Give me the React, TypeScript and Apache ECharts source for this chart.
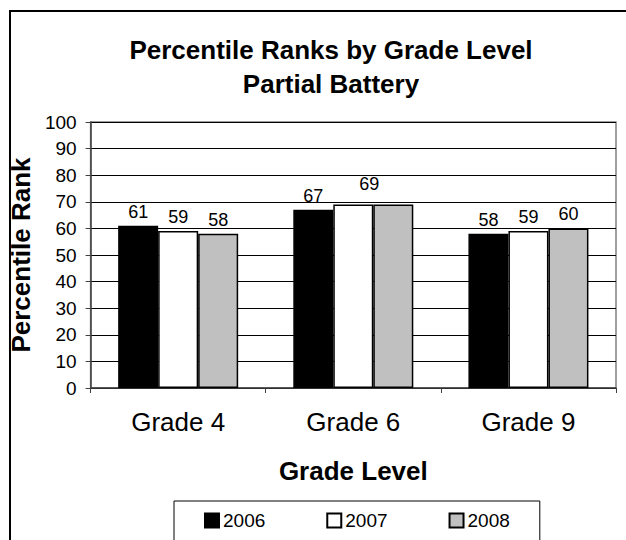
import React, { useEffect, useRef } from "react";
import * as echarts from "echarts";

const categories = ["Grade 4", "Grade 6", "Grade 9"];
const years = ["2006", "2007", "2008"];
const values2006 = [61, 67, 58];
const values2007 = [59, 69, 59];
const values2008 = [58, 69, 60];
const yTicks = { min: 0, max: 100, interval: 10 };

const FONT = "'Liberation Sans', Arial, sans-serif";

export default function App() {
  const ref = useRef<HTMLDivElement>(null);
  useEffect(() => {
    if (!ref.current) return;
    const chart = echarts.init(ref.current, undefined, { renderer: "svg" });
    const labelBase = {
      show: true,
      position: "top" as const,
      distance: 5,
      color: "#000",
      fontSize: 18,
      fontFamily: FONT,
    };
    const colors = ["#000000", "#ffffff", "#c0c0c0"];
    const seriesData = [values2006, values2007, values2008];
    const series = years.map((y, si) => ({
      name: y,
      type: "bar",
      barWidth: 40,
      barGap: "0%",
      itemStyle: {
        color: colors[si],
        borderColor: "#000",
        borderWidth: 1.5,
      },
      label: labelBase,
      data: seriesData[si].map((v, ci) => {
        if (ci === 1 && si === 1) {
          return { value: v, label: { offset: [16, -6] } };
        }
        if (ci === 1 && si === 2) {
          return { value: v, label: { show: false } };
        }
        return v;
      }),
    }));
    chart.setOption({
      animation: false,
      backgroundColor: "#fff",
      title: {
        text: "Percentile Ranks by Grade Level\nPartial Battery",
        left: 326,
        top: 28,
        textAlign: "center",
        textStyle: {
          fontSize: 26,
          fontWeight: "bold",
          fontFamily: FONT,
          lineHeight: 34,
          color: "#000",
        },
      },
      graphic: [
        {
          type: "rect",
          shape: { x: 10, y: 11, width: 700, height: 600 },
          style: { fill: "none", stroke: "#000", lineWidth: 2 },
          silent: true,
        },
      ],
      grid: {
        left: 84,
        right: 10,
        top: 122,
        bottom: 152,
        show: true,
        borderColor: "#808080",
        borderWidth: 1.5,
        backgroundColor: "transparent",
      },
      legend: {
        data: years,
        left: 174,
        top: 501,
        itemWidth: 14,
        itemHeight: 14,
        itemGap: 61,
        padding: [10, 30, 20, 30],
        borderColor: "#000",
        borderWidth: 1,
        textStyle: { fontSize: 19, fontFamily: FONT, color: "#000", padding: [0, 0, 0, -1] },
        icon: "rect",
      },
      xAxis: {
        type: "category",
        data: categories,
        name: "Grade Level",
        nameLocation: "middle",
        nameGap: 70,
        nameTextStyle: { fontSize: 26, fontWeight: "bold", fontFamily: FONT, color: "#000" },
        axisLine: { lineStyle: { color: "#404040", width: 1.5 } },
        axisTick: { show: true, length: 5, lineStyle: { color: "#404040" } },
        axisLabel: { fontSize: 26, fontFamily: FONT, color: "#000", margin: 21 },
      },
      yAxis: {
        type: "value",
        min: yTicks.min,
        max: yTicks.max,
        interval: yTicks.interval,
        name: "Percentile Rank",
        nameLocation: "middle",
        nameGap: 39,
        nameTextStyle: { fontSize: 26, fontWeight: "bold", fontFamily: FONT, color: "#000" },
        axisLine: { show: true, lineStyle: { color: "#404040", width: 1.5 } },
        axisTick: { show: true, length: 5, lineStyle: { color: "#404040" } },
        axisLabel: { fontSize: 19, fontFamily: FONT, color: "#000", margin: 14 },
        splitLine: { show: true, lineStyle: { color: "#000", width: 1 } },
      },
      series,
    });
    return () => chart.dispose();
  }, []);
  return (
    <div
      ref={ref}
      style={{ position: "absolute", left: 0, top: 0, width: 626, height: 540 }}
    />
  );
}
